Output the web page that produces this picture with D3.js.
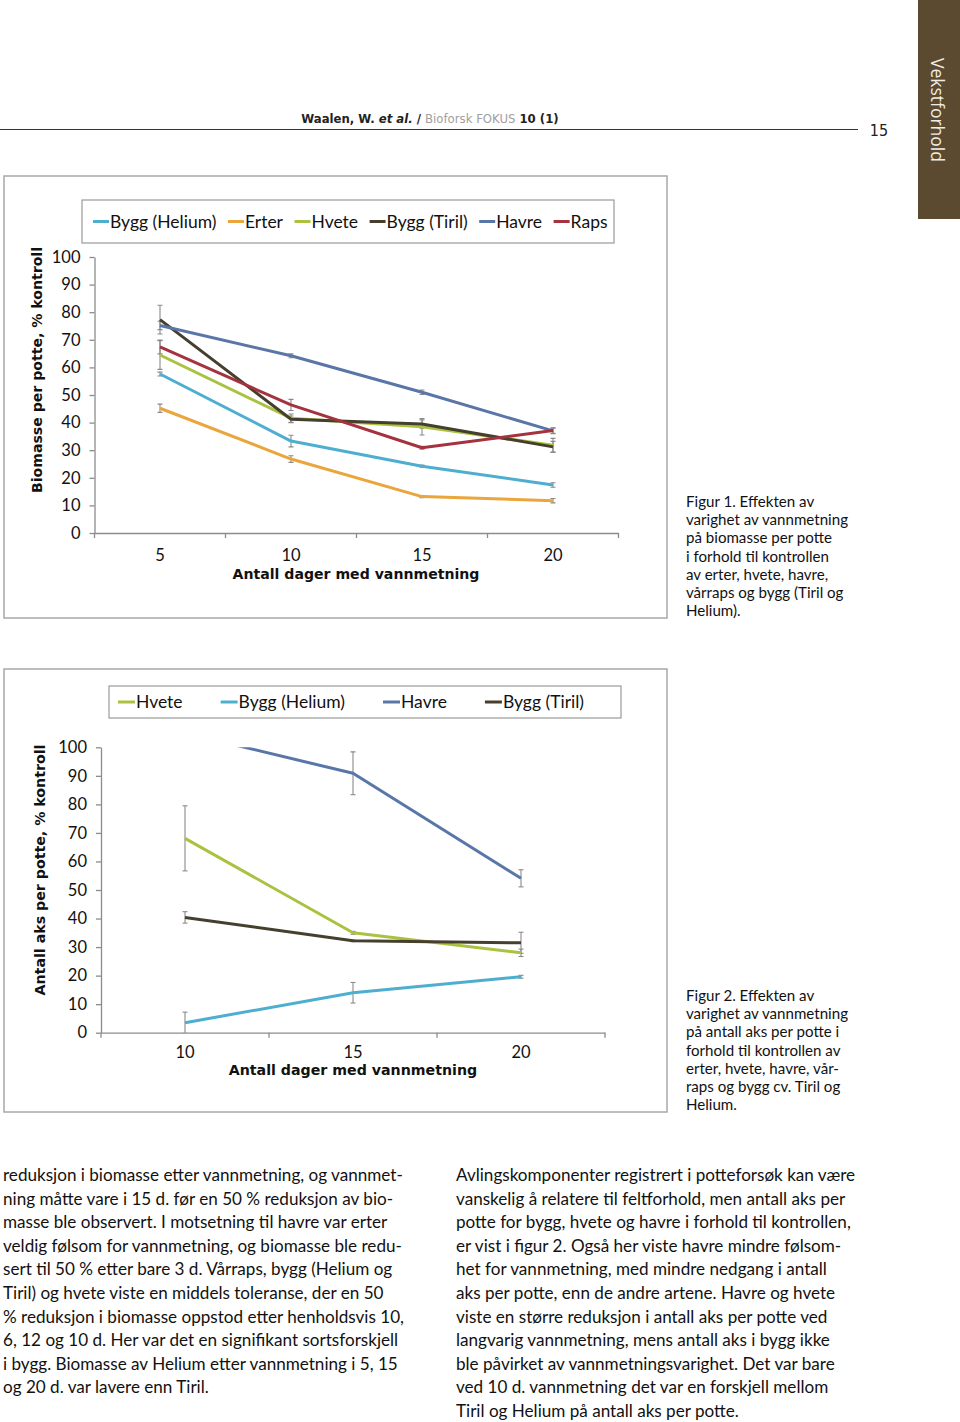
<!DOCTYPE html>
<html><head><meta charset="utf-8">
<script src="https://cdn.jsdelivr.net/npm/d3@7"></script>
<style>
html,body{margin:0;padding:0;background:#fff;}
svg{display:block;}
</style></head>
<body>
<script>
// ---------- DATA ----------
const days1 = ["5","10","15","20"];
const series1Names = ["Bygg (Helium)","Erter","Hvete","Bygg (Tiril)","Havre","Raps"];
const heliumBio = [57.6, 33.3, 24.2, 17.4];
const erterBio  = [45.2, 26.8, 13.2, 11.7];
const hveteBio  = [64.5, 41.6, 38.5, 31.8];
const tirilBio  = [77.3, 41.2, 39.5, 31.2];
const havreBio  = [75.2, 64.2, 51.0, 37.0];
const rapsBio   = [67.4, 46.4, 30.9, 37.1];
const heliumBioErr = [0.7, 2.1, 0.4, 0.8];
const erterBioErr  = [1.5, 1.2, 0.4, 0.8];
const hveteBioErr  = [5.2, 1.5, 3.0, 2.5];
const tirilBioErr  = [5.2, 1.2, 1.5, 2.0];
const havreBioErr  = [1.5, 0.7, 0.8, 1.0];
const rapsBioErr   = [2.5, 2.0, 0.5, 1.0];

const days2 = ["10","15","20"];
const series2Names = ["Hvete","Bygg (Helium)","Havre","Bygg (Tiril)"];
const hveteAks  = [68.1, 35.0, 28.0];
const heliumAks = [3.5, 14.0, 19.6];
const havreAks  = [105.0, 90.9, 54.1];
const tirilAks  = [40.4, 32.2, 31.5];
const hveteAksErr  = [11.4, 0.5, 1.3];
const heliumAksErr = [3.7, 3.6, 0.5];
const havreAksErr  = [3.0, 7.5, 3.0];
const tirilAksErr  = [2.0, 0.3, 3.7];

const yTicks = [0,10,20,30,40,50,60,70,80,90,100];

const colors = {
  "Bygg (Helium)":"#4eaed0",
  "Erter":"#eaa63c",
  "Hvete":"#a9c23f",
  "Bygg (Tiril)":"#463f2e",
  "Havre":"#5a76a8",
  "Raps":"#a5323f"
};

const caption1 = ["Figur 1. Effekten av","varighet av vannmetning","på biomasse per potte","i forhold til kontrollen","av erter, hvete, havre,","vårraps og bygg (Tiril og","Helium)."];
const caption2 = ["Figur 2. Effekten av","varighet av vannmetning","på antall aks per potte i","forhold til kontrollen av","erter, hvete, havre, vår-","raps og bygg cv. Tiril og","Helium."];
const bodyLeft = [
"reduksjon i biomasse etter vannmetning, og vannmet-",
"ning måtte vare i 15 d. før en 50 % reduksjon av bio-",
"masse ble observert. I motsetning til havre var erter",
"veldig følsom for vannmetning, og biomasse ble redu-",
"sert til 50 % etter bare 3 d. Vårraps, bygg (Helium og",
"Tiril) og hvete viste en middels toleranse, der en 50",
"% reduksjon i biomasse oppstod etter henholdsvis 10,",
"6, 12 og 10 d. Her var det en signifikant sortsforskjell",
"i bygg. Biomasse av Helium etter vannmetning i 5, 15",
"og 20 d. var lavere enn Tiril."];
const bodyRight = [
"Avlingskomponenter registrert i potteforsøk kan være",
"vanskelig å relatere til feltforhold, men antall aks per",
"potte for bygg, hvete og havre i forhold til kontrollen,",
"er vist i figur 2. Også her viste havre mindre følsom-",
"het for vannmetning, med mindre nedgang i antall",
"aks per potte, enn de andre artene. Havre og hvete",
"viste en større reduksjon i antall aks per potte ved",
"langvarig vannmetning, mens antall aks i bygg ikke",
"ble påvirket av vannmetningsvarighet. Det var bare",
"ved 10 d. vannmetning det var en forskjell mellom",
"Tiril og Helium på antall aks per potte."];

// ---------- PAGE ----------
const W = 960, H = 1422;
const svg = d3.select("body").append("svg").attr("width", W).attr("height", H);
const FONT = "Lato, 'Open Sans', sans-serif";
const NARROW = "'Liberation Sans Narrow','DejaVu Sans Condensed',sans-serif";

// header
const hdr = svg.append("text").attr("x", 430).attr("y", 123).attr("text-anchor","middle")
  .attr("font-family", NARROW).attr("font-size", 13).attr("fill","#222");
hdr.append("tspan").attr("font-weight","bold").text("Waalen, W. ");
hdr.append("tspan").attr("font-weight","bold").attr("font-style","italic").text("et al.");
hdr.append("tspan").attr("font-weight","bold").text(" / ");
hdr.append("tspan").attr("fill","#a0a0a0").text("Bioforsk FOKUS");
hdr.append("tspan").attr("font-weight","bold").text("  10 (1)");
svg.append("line").attr("x1",0).attr("x2",858).attr("y1",129.5).attr("y2",129.5)
  .attr("stroke","#333").attr("stroke-width",1);
svg.append("text").attr("x",879).attr("y",136).attr("text-anchor","middle")
  .attr("font-family","'DejaVu Sans Condensed',sans-serif").attr("font-size",16).attr("fill","#222").text("15");
// side tab
svg.append("rect").attr("x",918).attr("y",0).attr("width",42).attr("height",219).attr("fill","#5b4a2f");
svg.append("text").attr("transform","translate(931,110) rotate(90)").attr("text-anchor","middle")
  .attr("font-family","'Open Sans',sans-serif").attr("font-size",17.5).attr("fill","#f2ede2").text("Vekstforhold");

// ---------- CHART BUILDER ----------
function buildChart(cfg){
  const g = svg.append("g");
  g.append("rect").attr("x",cfg.frame[0]).attr("y",cfg.frame[1]).attr("width",cfg.frame[2]).attr("height",cfg.frame[3])
    .attr("fill","none").attr("stroke","#a8a8a8").attr("stroke-width",1.5);
  const x = d3.scaleBand().domain(cfg.days).range(cfg.xRange).padding(0);
  const y = d3.scaleLinear().domain([0,100]).range(cfg.yRange);
  const cx = d => x(d) + x.bandwidth()/2;

  // y axis
  const ya = g.append("g").attr("transform",`translate(${cfg.xRange[0]},0)`)
    .call(d3.axisLeft(y).tickValues(yTicks).tickSize(5).tickPadding(9).tickSizeOuter(0));
  ya.selectAll("path,line").attr("stroke","#8c8c8c").attr("stroke-width",1.3);
  ya.selectAll("text").attr("font-family",FONT).attr("font-size",16.5).attr("fill","#111");

  // x axis (labels centered in bands, ticks at boundaries)
  const xa = g.append("g").attr("transform",`translate(0,${cfg.yRange[0]})`)
    .call(d3.axisBottom(x).tickSize(0).tickPadding(cfg.xPad));
  xa.select("path").attr("stroke","#8c8c8c").attr("stroke-width",1.3);
  xa.selectAll("text").attr("font-family",FONT).attr("font-size",16.5).attr("fill","#111");
  const bounds = cfg.days.map(d=>x(d)).concat([x(cfg.days[cfg.days.length-1])+x.bandwidth()]);
  xa.selectAll("line.b").data(bounds).enter().append("line").attr("class","b")
    .attr("x1",d=>d).attr("x2",d=>d).attr("y1",0).attr("y2",5).attr("stroke","#8c8c8c").attr("stroke-width",1.3);

  // axis titles
  g.append("text").attr("x",cfg.xTitle[0]).attr("y",cfg.xTitle[1]).attr("text-anchor","middle")
    .attr("font-family","'DejaVu Sans',sans-serif").attr("font-weight","bold").attr("font-size",cfg.titleSize).attr("fill","#111")
    .text("Antall dager med vannmetning");
  g.append("text").attr("transform",`translate(${cfg.yTitle[0]},${cfg.yTitle[1]}) rotate(-90)`).attr("text-anchor","middle")
    .attr("font-family","'DejaVu Sans',sans-serif").attr("font-weight","bold").attr("font-size",cfg.titleSize).attr("fill","#111")
    .text(cfg.yTitleText);

  // clip
  const cid = "clip"+cfg.id;
  svg.append("defs").append("clipPath").attr("id",cid).append("rect")
    .attr("x",cfg.xRange[0]).attr("y",cfg.yRange[1]).attr("width",cfg.xRange[1]-cfg.xRange[0]).attr("height",cfg.yRange[0]-cfg.yRange[1]);
  const plot = g.append("g").attr("clip-path",`url(#${cid})`);
  const line = d3.line().x(d=>cx(d.day)).y(d=>y(d.v));

  cfg.series.forEach(s=>{
    const pts = cfg.days.map((d,i)=>({day:d, v:s.values[i], e:s.err[i]}));
    const eb = plot.append("g").attr("stroke","#8a8a8a").attr("stroke-width",1.1);
    pts.forEach(p=>{
      eb.append("line").attr("x1",cx(p.day)).attr("x2",cx(p.day)).attr("y1",y(p.v-p.e)).attr("y2",y(p.v+p.e));
      [p.v-p.e,p.v+p.e].forEach(v=>eb.append("line").attr("x1",cx(p.day)-2.5).attr("x2",cx(p.day)+2.5).attr("y1",y(v)).attr("y2",y(v)));
    });
  });
  cfg.series.forEach(s=>{
    const pts = cfg.days.map((d,i)=>({day:d, v:s.values[i]}));
    plot.append("path").datum(pts).attr("d",line).attr("fill","none")
      .attr("stroke",colors[s.name]).attr("stroke-width",3).attr("stroke-linejoin","round");
  });

  // legend
  const L = cfg.legend;
  g.append("rect").attr("x",L.box[0]).attr("y",L.box[1]).attr("width",L.box[2]).attr("height",L.box[3])
    .attr("fill","#fff").attr("stroke","#9a9a9a").attr("stroke-width",1.2);
  let lx = L.start;
  cfg.legendOrder.forEach(name=>{
    g.append("line").attr("x1",lx).attr("x2",lx+L.seg).attr("y1",L.y).attr("y2",L.y)
      .attr("stroke",colors[name]).attr("stroke-width",3);
    const t = g.append("text").attr("x",lx+L.seg+1).attr("y",L.y+6).attr("font-family",FONT).attr("font-size",17.5).attr("fill","#111").text(name);
    lx += L.seg + 1 + t.node().getComputedTextLength() + L.gap;
  });
}

buildChart({
  id:1, frame:[4,176,663,442], days:days1, xRange:[94.5,618.5], yRange:[533,257], xPad:16,
  xTitle:[356,579], yTitle:[42,370], titleSize:14.1, yTitleText:"Biomasse per potte, % kontroll",
  series:[
    {name:"Bygg (Helium)", values:heliumBio, err:heliumBioErr},
    {name:"Erter", values:erterBio, err:erterBioErr},
    {name:"Hvete", values:hveteBio, err:hveteBioErr},
    {name:"Bygg (Tiril)", values:tirilBio, err:tirilBioErr},
    {name:"Havre", values:havreBio, err:havreBioErr},
    {name:"Raps", values:rapsBio, err:rapsBioErr}
  ],
  legendOrder: series1Names,
  legend:{box:[82,200,532,43], start:93, seg:16, gap:11.5, y:221.5}
});

buildChart({
  id:2, frame:[4,669,663,443], days:days2, xRange:[101,605], yRange:[1032.7,747.3], xPad:14,
  xTitle:[353,1075], yTitle:[45,870], titleSize:14.2, yTitleText:"Antall aks per potte, % kontroll",
  series:[
    {name:"Hvete", values:hveteAks, err:hveteAksErr},
    {name:"Bygg (Helium)", values:heliumAks, err:heliumAksErr},
    {name:"Havre", values:havreAks, err:havreAksErr},
    {name:"Bygg (Tiril)", values:tirilAks, err:tirilAksErr}
  ],
  legendOrder: series2Names,
  legend:{box:[109,686,512,32], start:118, seg:17, gap:38, y:702}
});

// captions
function textBlock(lines, x, y0, lh, size){
  const t = svg.append("text").attr("font-family",FONT).attr("font-size",size).attr("fill","#111");
  lines.forEach((l,i)=>t.append("tspan").attr("x",x).attr("y",y0+i*lh).text(l));
}
textBlock(caption1, 686, 507, 18.2, 15.1);
textBlock(caption2, 686, 1001, 18.2, 15.1);
textBlock(bodyLeft, 3, 1181, 23.6, 17.1);
textBlock(bodyRight, 456, 1181, 23.6, 17.1);
</script>
</body></html>
